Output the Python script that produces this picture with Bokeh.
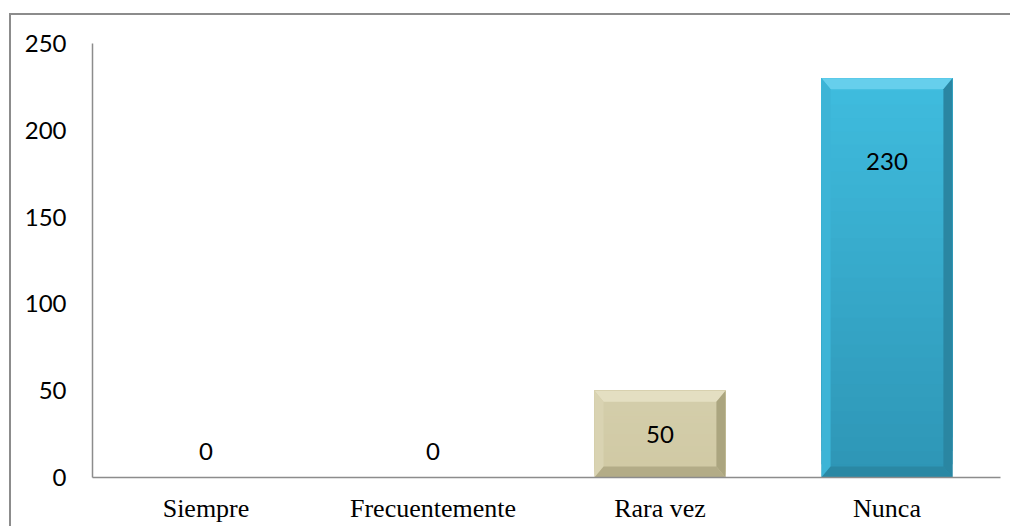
from bokeh.plotting import figure
from bokeh.models import Range1d, FixedTicker
from bokeh.core.properties import value
from bokeh.embed import file_html
from bokeh.resources import INLINE

# ---- data ----
categories = ["Siempre", "Frecuentemente", "Rara vez", "Nunca"]
counts = [0, 0, 50, 230]
y_ticks = [0, 50, 100, 150, 200, 250]

# ---- styling (not data) ----
label_y = [15, 15, 25, 182]           # vertical position of the value labels
bar_width = 0.577
bevel_dx = 0.04                        # ~9 px
bevel_dy = 6.3                         # ~11 px
body_top = {2: (212, 206, 171), 3: (63, 188, 222)}
body_bot = {2: (208, 201, 164), 3: (46, 150, 182)}
bev_top = {2: "#E4DFC2", 3: "#66CFEC"}
bev_left = {2: "#D9D3B2", 3: "#3DB4D6"}
bev_right = {2: "#ABA57F", 3: "#2A86A2"}
bev_bot = {2: "#B3AC87", 3: "#2A88A4"}

W, H = 1010, 526
p = figure(width=W, height=H, output_backend="svg", toolbar_location=None,
           x_range=Range1d(0, len(categories)), y_range=Range1d(0, 250),
           min_border_left=92, min_border_right=W - 1000, min_border_top=43,
           min_border_bottom=H - 477)
p.outline_line_color = None
p.xgrid.visible = False
p.ygrid.visible = False
# transparent canvas so the page background (with the chart's outer border) shows
p.border_fill_color = None
p.background_fill_color = None
p.styles = {
    "background": ("linear-gradient(#8c8c8c, #8c8c8c) 9px 13px / 2px 100% no-repeat, "
                   "linear-gradient(#8c8c8c, #8c8c8c) 9px 13px / 100% 2px no-repeat, #ffffff"),
}

xc = [i + 0.5 for i in range(len(categories))]

# bodies drawn as overlapping horizontal strips to mimic the gradient
for i, v in enumerate(counts):
    if v <= 0:
        continue
    n = 30
    lefts, rights, tops, bots, cols = [], [], [], [], []
    for k in range(n):
        f = k / (n - 1)
        c0, c1 = body_bot[i], body_top[i]
        col = "#%02x%02x%02x" % tuple(int(round(c0[j] + (c1[j] - c0[j]) * f)) for j in range(3))
        lefts.append(xc[i] - bar_width / 2)
        rights.append(xc[i] + bar_width / 2)
        bots.append(v * k / n)
        tops.append(v)
        cols.append(col)
    p.quad(left=lefts, right=rights, bottom=bots, top=tops, fill_color=cols, line_color=None)
    c, w, t = xc[i], bar_width / 2, v
    dx, dy = bevel_dx, bevel_dy
    p.patch([c - w, c + w, c + w - dx, c - w + dx], [t, t, t - dy, t - dy],
            fill_color=bev_top[i], line_color=None)
    p.patch([c - w, c - w, c - w + dx, c - w + dx], [0, t, t - dy, dy],
            fill_color=bev_left[i], line_color=None)
    p.patch([c + w, c + w, c + w - dx, c + w - dx], [t, 0, dy, t - dy],
            fill_color=bev_right[i], line_color=None)
    p.patch([c - w, c + w, c + w - dx, c - w + dx], [0, 0, dy, dy],
            fill_color=bev_bot[i], line_color=None)

# value labels
p.text(x=xc, y=label_y, text=[str(v) for v in counts],
       text_font=value("Lato"), text_font_size="24px", text_color="#000000",
       text_align="center", text_baseline="middle")

# axes
p.yaxis.ticker = FixedTicker(ticks=y_ticks)
p.yaxis.major_tick_line_color = None
p.yaxis.minor_tick_line_color = None
p.yaxis.major_label_standoff = 20
p.yaxis.major_label_text_font = "Lato"
p.yaxis.major_label_text_font_size = "24px"
p.yaxis.major_label_text_color = "#000000"
p.yaxis.axis_line_color = "#8c8c8c"
p.yaxis.axis_line_width = 1.5

p.xaxis.ticker = FixedTicker(ticks=xc)
p.xaxis.major_label_overrides = {x: c for x, c in zip(xc, categories)}
p.xaxis.major_tick_line_color = None
p.xaxis.minor_tick_line_color = None
p.xaxis.major_tick_out = 0
p.xaxis.minor_tick_out = 0
p.xaxis.major_label_standoff = 16
p.xaxis.major_label_text_font = "Liberation Serif"
p.xaxis.major_label_text_font_size = "26px"
p.xaxis.major_label_text_color = "#000000"
p.xaxis.axis_line_color = "#8c8c8c"
p.xaxis.axis_line_width = 1.5

open("out.html", "w").write(file_html(p, INLINE))
